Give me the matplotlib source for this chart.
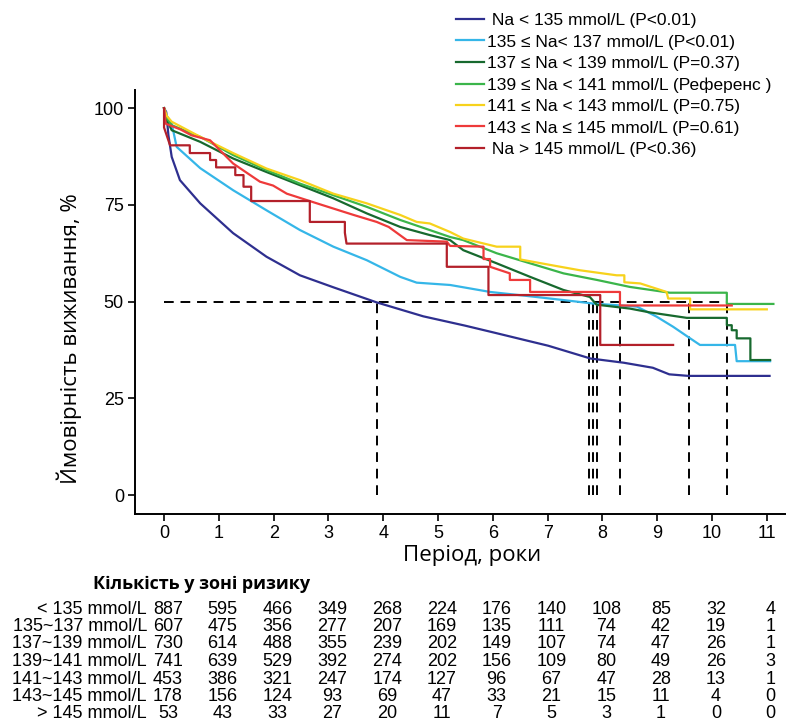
import matplotlib
matplotlib.use("Agg")
import matplotlib.pyplot as plt
from matplotlib.transforms import blended_transform_factory

# ---------------- data ----------------
labels = [" Na < 135 mmol/L (P<0.01)",
          "135 ≤ Na< 137 mmol/L (P<0.01)",
          "137 ≤ Na < 139 mmol/L (P=0.37)",
          "139 ≤ Na < 141 mmol/L (Референс )",
          "141 ≤ Na < 143 mmol/L (P=0.75)",
          "143 ≤ Na ≤ 145 mmol/L (P=0.61)",
          " Na > 145 mmol/L (P<0.36)"]
colors = ["#2e2f8f", "#35b6e8", "#17692e", "#3bb54a", "#f7d21c", "#ee3a3a", "#b3202a"]

t_lt135 = [0, 0.04, 0.08, 0.14, 0.29, 0.66, 1.26, 1.87, 2.48, 3.09, 3.88, 4.73, 5.49, 6.02, 6.63, 7.01,
           7.78, 8.39, 8.92, 9.22, 9.57, 11.05]
s_lt135 = [100, 99, 93, 87.4, 81.4, 75.4, 67.7, 61.6, 56.8, 53.7, 49.8, 46.2, 43.8, 42.0, 39.9, 38.6,
           35.3, 34.2, 32.9, 31.2, 30.8, 30.8]

t_135 = [0, 0.05, 0.14, 0.23, 0.66, 1.26, 1.87, 2.48, 3.09, 3.70, 4.31, 4.61, 5.22, 5.95, 6.6, 7.29,
         7.83, 8.63, 8.99, 9.29, 9.57, 9.78, 10.42, 10.45, 11.06]
s_135 = [100, 98, 96, 90, 84.5, 78.8, 73.6, 68.5, 64.2, 60.7, 56.4, 54.9, 54.3, 52.5, 51.5, 50.4,
         49.5, 48.7, 46.1, 43.5, 40.8, 38.8, 38.8, 34.6, 34.6]

t_137 = [0, 0.05, 0.14, 0.66, 1.26, 1.87, 2.48, 3.09, 3.70, 4.31, 4.85, 5.22, 5.46, 6.07, 6.68, 7.29,
         7.77, 7.90, 7.96, 8.50, 8.87, 9.54, 10.27, 10.27, 10.36, 10.36, 10.45, 10.45, 10.70, 10.70, 11.06]
s_137 = [100, 97, 94.3, 91.3, 87.0, 83.5, 80.1, 76.7, 72.8, 69.3, 67.2, 65.9, 63.3, 59.9, 56.4, 53.0,
         51.2, 49.1, 49.1, 48.2, 47.2, 45.8, 45.8, 43.9, 43.9, 42.6, 42.6, 40.5, 40.5, 34.9, 34.9]

t_139 = [0, 0.05, 0.14, 0.66, 1.26, 1.87, 2.48, 3.09, 3.70, 4.31, 5.22, 5.46, 6.07, 6.68, 7.29, 7.90,
         8.50, 9.23, 10.27, 10.27, 11.12]
s_139 = [100, 97.5, 95.6, 92.6, 87.9, 84.0, 80.5, 77.5, 74.5, 71.1, 66.7, 65.9, 62.5, 59.9, 57.3, 55.6,
         53.8, 52.3, 52.3, 49.4, 49.4]

t_141 = [0, 0.05, 0.14, 0.66, 1.26, 1.87, 2.48, 3.09, 3.70, 4.31, 4.61, 4.85, 5.22, 5.46, 6.07, 6.50,
         6.50, 7.0, 7.59, 8.26, 8.40, 8.40, 8.69, 9.17, 9.20, 9.60, 9.60, 11.0]
s_141 = [100, 98, 96.5, 92.6, 88.4, 84.4, 81.4, 77.9, 75.4, 72.4, 70.6, 70.2, 68.0, 66.3, 64.2, 64.2,
         60.9, 59.6, 58.1, 56.8, 56.8, 55.0, 54.7, 52.5, 50.8, 50.8, 48.0, 48.0]

t_143 = [0, 0.03, 0.3, 0.5, 0.84, 1.26, 1.75, 1.99, 2.24, 2.79, 3.46, 3.88, 4.1, 4.43, 5.16, 5.22,
         5.83, 5.83, 5.95, 5.95, 6.31, 6.31, 6.68, 6.68, 8.32, 8.32, 10.36]
s_143 = [100, 96, 94.5, 93, 91.7, 85.7, 81.0, 80, 77.9, 75.4, 72.4, 70.6, 69.3, 65.9, 65.5, 64.4,
         64.2, 61.0, 61.0, 59.0, 57.3, 55.6, 55.6, 52.5, 52.5, 49.0, 49.0]

t_gt145 = [0, 0, 0.11, 0.47, 0.47, 0.84, 0.84, 0.95, 0.95, 1.30, 1.30, 1.45, 1.45, 1.59, 1.59, 2.66,
           2.66, 3.30, 3.30, 3.33, 5.16, 5.16, 5.92, 5.92, 7.96, 7.96, 9.29]
s_gt145 = [100, 95, 90.4, 90.4, 88.4, 88.4, 86.6, 86.6, 84.7, 84.7, 82.7, 82.7, 79.7, 79.7, 76.0, 76.0,
           70.6, 70.6, 67.8, 65.0, 65.0, 59.0, 59.0, 51.7, 51.7, 38.8, 38.8]

curves_t = [t_lt135, t_135, t_137, t_139, t_141, t_143, t_gt145]
curves_s = [s_lt135, s_135, s_137, s_139, s_141, s_143, s_gt145]

medians = [3.88, 7.76, 7.83, 7.90, 8.32, 9.58, 10.27]

risk_times = list(range(12))
risk_labels = ["< 135 mmol/L", "135~137 mmol/L", "137~139 mmol/L", "139~141 mmol/L",
               "141~143 mmol/L", "143~145 mmol/L", "> 145 mmol/L"]
risk_counts = [
    [887, 595, 466, 349, 268, 224, 176, 140, 108, 85, 32, 4],
    [607, 475, 356, 277, 207, 169, 135, 111, 74, 42, 19, 1],
    [730, 614, 488, 355, 239, 202, 149, 107, 74, 47, 26, 1],
    [741, 639, 529, 392, 274, 202, 156, 109, 80, 49, 26, 3],
    [453, 386, 321, 247, 174, 127, 96, 67, 47, 28, 13, 1],
    [178, 156, 124, 93, 69, 47, 33, 21, 15, 11, 4, 0],
    [53, 43, 33, 27, 20, 11, 7, 5, 3, 1, 0, 0],
]

# ---------------- figure ----------------
W, H = 786, 721
fig = plt.figure(figsize=(W / 100, H / 100), dpi=100)
ax = fig.add_axes([135 / W, 1 - 514 / H, (786 - 135) / W, (514 - 90) / H])
ax.set_xlim(-0.53, 11.35)
ax.set_ylim(-4.9, 104.7)

sans = ["Liberation Sans", "DejaVu Sans"]
narrow = ["Liberation Sans Narrow", "Liberation Sans", "DejaVu Sans"]
ukr = ["Open Sans", "DejaVu Sans"]

# median reference lines
dash = (0, (5, 3.5))
ax.plot([0, max(medians)], [50, 50], color="black", lw=1.4, linestyle=dash, zorder=1)
for m in medians:
    ax.plot([m, m], [0, 50], color="black", lw=1.4, linestyle=dash, zorder=1)

handles = []
for t, s, c, lab in zip(curves_t, curves_s, colors, labels):
    ln, = ax.plot(t, s, color=c, lw=1.6, zorder=3, label=lab)
    handles.append(ln)

for sp in ["top", "right"]:
    ax.spines[sp].set_visible(False)
for sp in ["left", "bottom"]:
    ax.spines[sp].set_linewidth(1.4)
ax.set_xticks(risk_times)
ax.set_yticks([0, 25, 50, 75, 100])
ax.tick_params(direction="out", length=5, width=1.2, labelsize=13, pad=3)
for lab in ax.get_xticklabels() + ax.get_yticklabels():
    lab.set_family(sans)

ax.set_xlabel("Період, роки", family=ukr, fontsize=16)
ax.xaxis.set_label_coords((472 - 135) / 651, -0.072)
ax.set_ylabel("Ймовірність виживання, %", family=ukr, fontsize=16)
ax.yaxis.set_label_coords(-0.082, 0.413)

leg = fig.legend(handles=handles, labels=labels, loc="upper left",
                 bbox_to_anchor=(456 / W, 1 - 13 / H), frameon=False,
                 prop={"family": sans, "size": 12.5}, handlelength=1.6,
                 handletextpad=0.2, labelspacing=0.36, borderaxespad=0, borderpad=0)

# ---------------- risk table ----------------
tr = blended_transform_factory(ax.transData, fig.transFigure)
fig.text(202 / W, 1 - 584 / H, "Кількість у зоні ризику", family=ukr, fontsize=13,
         fontweight="bold", ha="center", va="center")
for i, (rl, row) in enumerate(zip(risk_labels, risk_counts)):
    y = 1 - (609 + 17.5 * i) / H
    fig.text(147 / W, y, rl, family=narrow, fontsize=13, ha="right", va="center")
    for t, n in zip(risk_times, row):
        ax.text(t + 0.07, y, str(n), transform=tr, family=narrow, fontsize=13,
                ha="center", va="center", clip_on=False)

fig.savefig("out.png", dpi=100)
